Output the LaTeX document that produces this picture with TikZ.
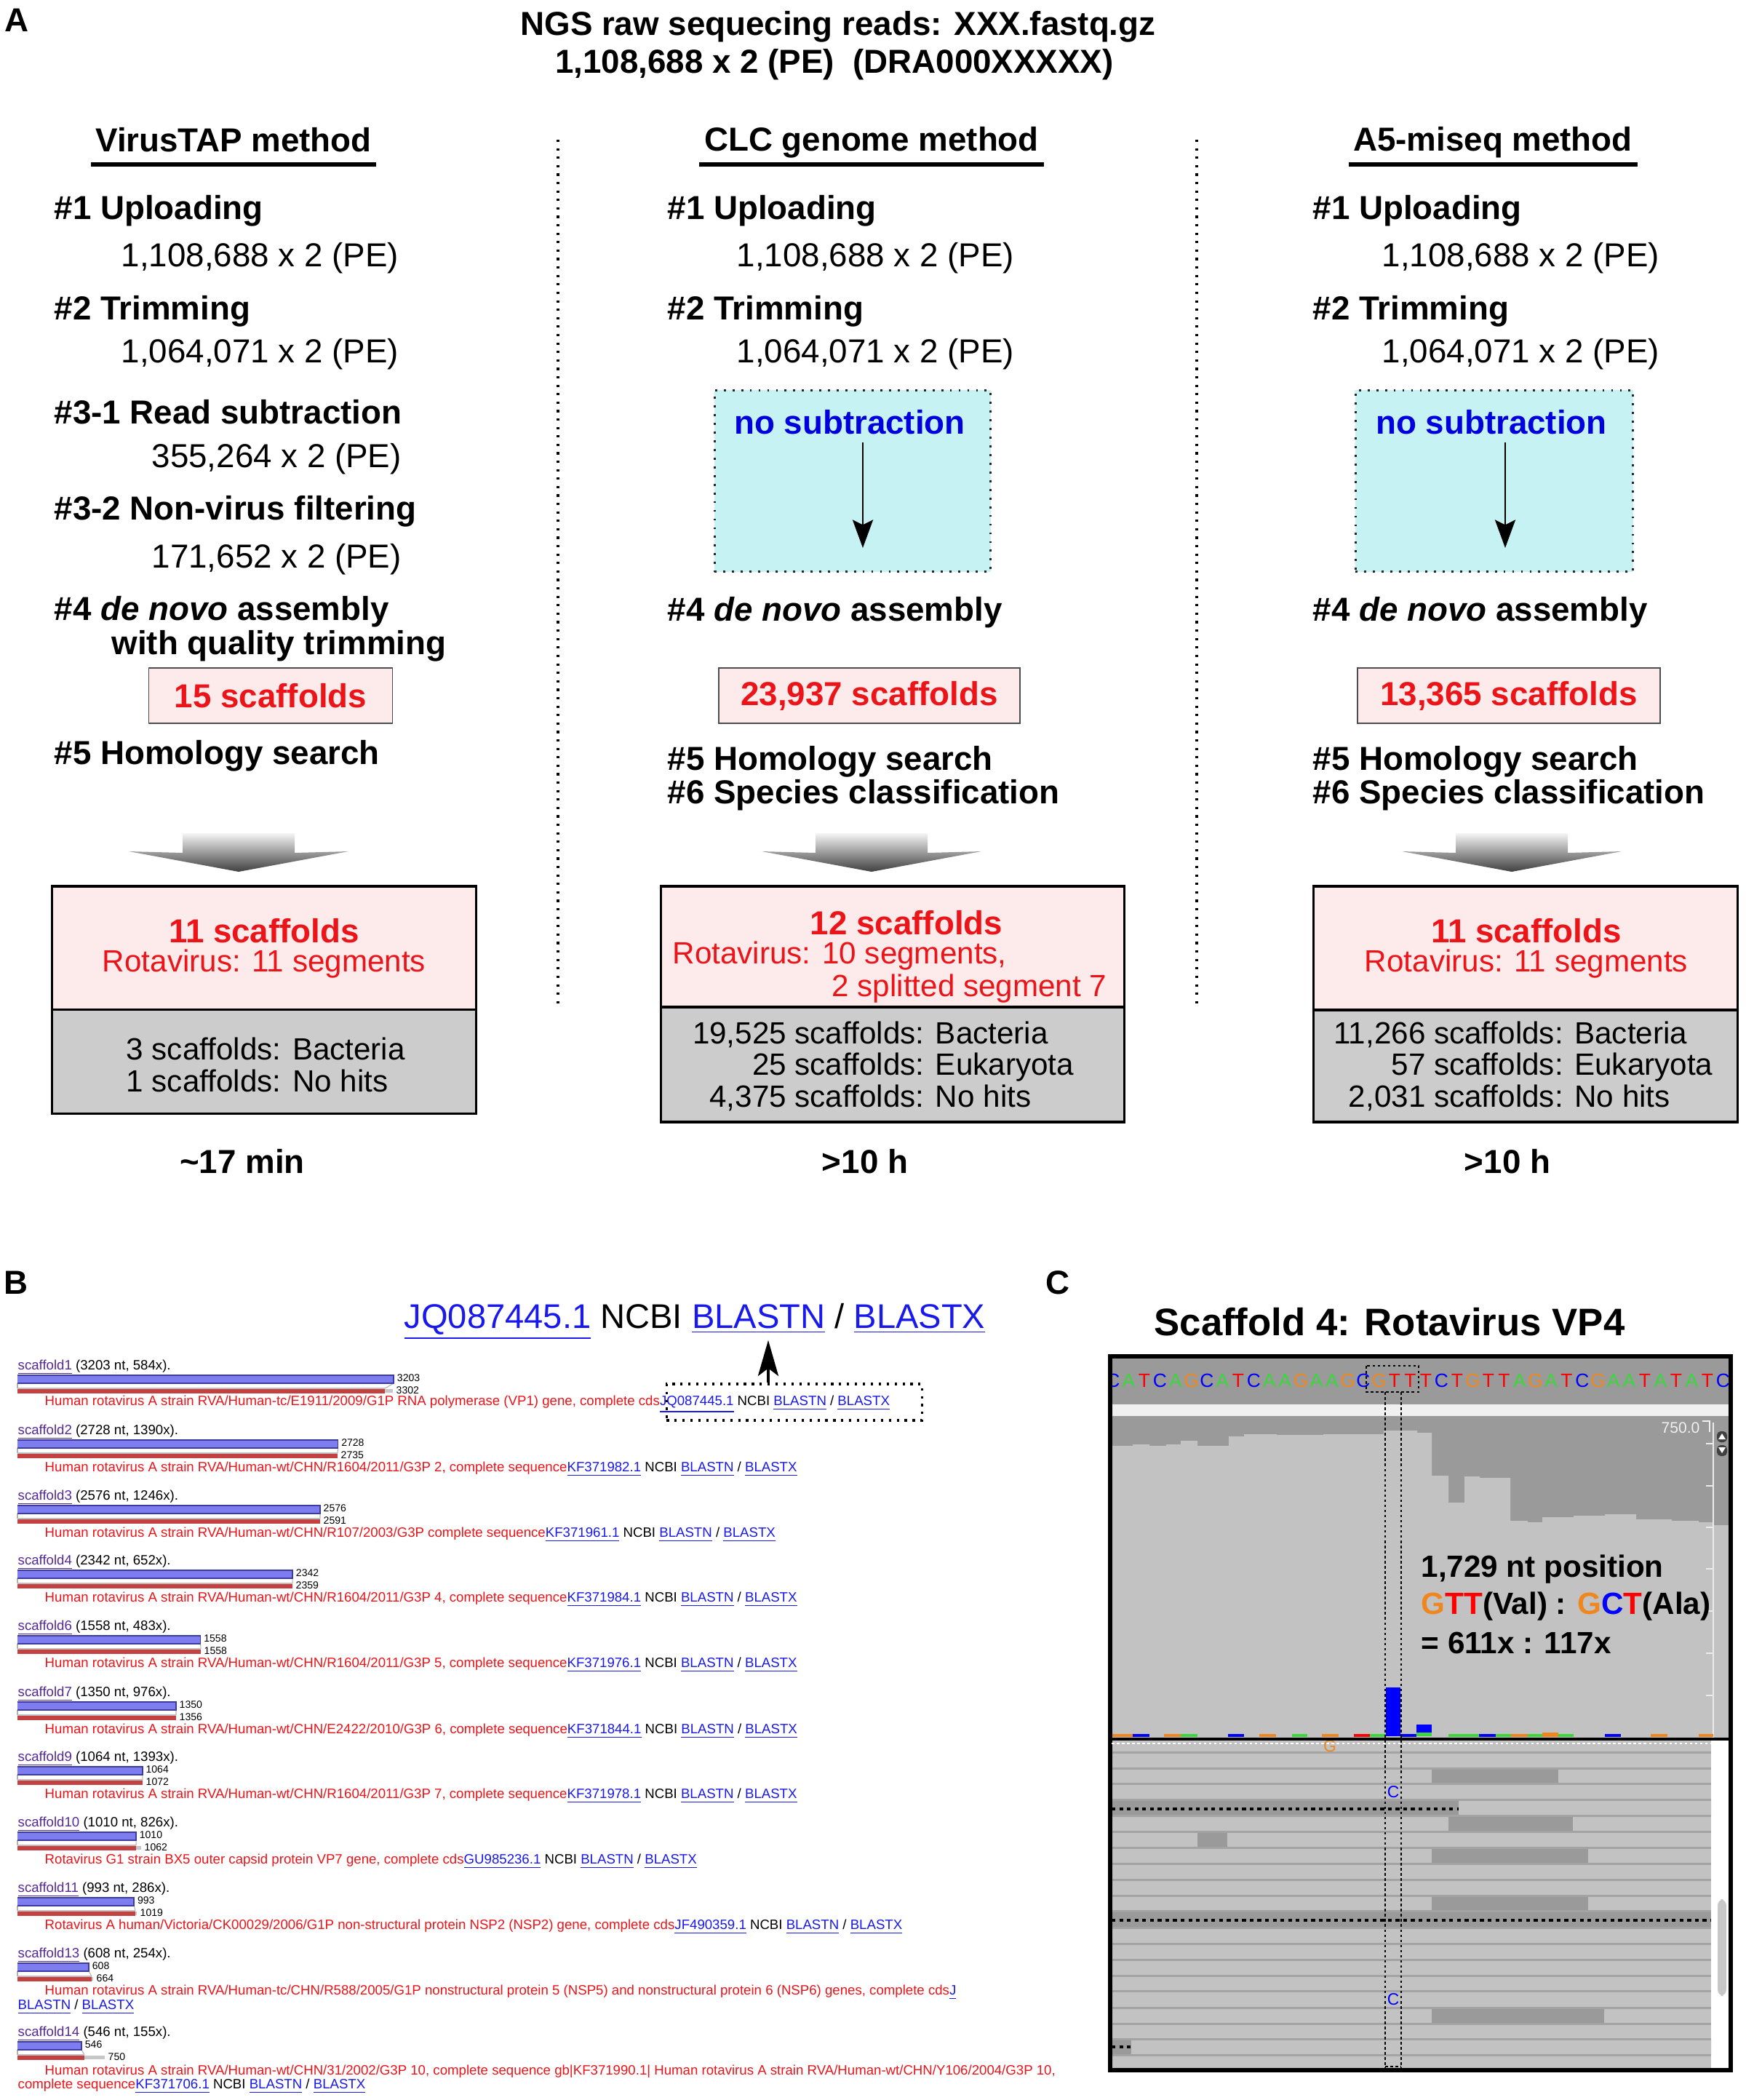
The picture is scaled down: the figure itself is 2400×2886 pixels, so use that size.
\documentclass[tikz,border=0pt]{standalone}
\usepackage{fontspec}
\setmainfont{Liberation Sans}
\usepackage{tikz}
\usetikzlibrary{arrows.meta,calc,positioning}

\definecolor{redtxt}{RGB}{235,20,25}
\definecolor{pinkbg}{RGB}{253,234,234}
\definecolor{greybg}{RGB}{204,204,204}
\definecolor{cyanbg}{RGB}{198,242,244}
\definecolor{nosub}{RGB}{0,0,220}
\definecolor{lnk}{RGB}{25,25,235}
\definecolor{visited}{RGB}{85,40,150}
\definecolor{barblue}{RGB}{125,125,240}
\definecolor{barblueE}{RGB}{60,60,160}
\definecolor{barred}{RGB}{195,65,65}
\definecolor{ntA}{RGB}{60,215,60}
\definecolor{ntC}{RGB}{0,0,255}
\definecolor{ntG}{RGB}{240,135,30}
\definecolor{ntT}{RGB}{255,0,0}
\definecolor{igvdark}{RGB}{154,154,154}
\definecolor{igvlight}{RGB}{194,194,194}
\definecolor{igvline}{RGB}{163,163,163}

\newcommand\fA{\fontsize{13pt}{15pt}\selectfont}
\newcommand\fR{\fontsize{12pt}{12.4pt}\selectfont}
\newcommand\fB{\fontsize{5.3pt}{6pt}\selectfont}
\newcommand\fN{\fontsize{4pt}{4.5pt}\selectfont}
\newcommand\lnk[1]{{\color{lnk}\underline{#1}}}
\newcommand\rd[1]{{\color{redtxt}#1}}

\tikzset{
	txt/.style={inner sep=0pt, font=\fA},
	stage/.style={txt, anchor=west, font=\fA\bfseries, yshift=-0.05cm},
	readnum/.style={txt, anchor=west, yshift=-0.05cm},
	method/.style={txt, font=\fA\bfseries},
	headline/.style={line width=1.5pt, shorten <=-0.06cm, shorten >=-0.06cm},
	divider/.style={line width=0.9pt, dash pattern=on 0.9pt off 2.4pt},
	scafbox/.style={draw=black!70, line width=0.5pt, fill=pinkbg, text=redtxt, font=\fA\bfseries, inner sep=0pt},
	nosubbox/.style={draw=black!85, fill=cyanbg, line width=0.8pt, dash pattern=on 0.8pt off 2.6pt, inner sep=0pt},
	subarrow/.style={line width=0.7pt, shorten <=0.1cm, -{Stealth[length=11pt, width=8pt, inset=2pt]}},
	hitbox/.style={draw, line width=0.9pt, fill=pinkbg, inner sep=0pt},
	restbox/.style={draw, line width=0.9pt, fill=greybg, inner sep=0pt},
	hit/.style={txt, text=redtxt, font=\fR},
	hitbold/.style={txt, text=redtxt, font=\fA\bfseries},
	rest/.style={txt, font=\fR},
	desc/.style={inner sep=0pt, anchor=west, font=\fB},
	barnum/.style={inner sep=0pt, anchor=west, font=\fN},
	panel/.style={inner sep=0pt, font=\fA\bfseries},
	thickdot/.style={line width=1.3pt, dash pattern=on 1.5pt off 1.5pt},
	thindot/.style={line width=0.7pt, dash pattern=on 1pt off 1pt}
}

\begin{document}
\begin{tikzpicture}[x=0.01cm, y=-0.01cm]
\useasboundingbox (0,0) rectangle (2400,2886);

\node[panel] (labA) at (23,28) {A};
\node[method] (title1) at (1152,37) {NGS raw sequecing reads: XXX.fastq.gz};
\node[method] (title2) at (1147,89) {1,108,688 x 2 (PE)\ \ (DRA000XXXXX)};

\coordinate (ul) at (0,226);
\node[method] (tap-head) at (321,192) {VirusTAP method};
\node[method] (clc-head) at (1198,196) {CLC genome method};
\node[method] (a5-head) at (2052,196) {A5-miseq method};
\draw[headline] (tap-head.west |- ul) to (tap-head.east |- ul);
\draw[headline] (clc-head.west |- ul) to (clc-head.east |- ul);
\draw[headline] (a5-head.west |- ul) to (a5-head.east |- ul);

\draw[divider] (767,192) to (767,1384);
\draw[divider] (1645,192) to (1645,1384);

\node[stage] (tap-1) at (74,285) {\#1 Uploading};
\node[readnum] (tap-1n) at (166,350) {1,108,688 x 2 (PE)};
\node[stage] (tap-2) at (74,423) {\#2 Trimming};
\node[readnum] (tap-2n) at (166,482) {1,064,071 x 2 (PE)};
\node[stage] (tap-31) at (74,561) {\#3-1 Read subtraction};
\node[readnum] (tap-31n) at (208,626) {355,264 x 2 (PE)};
\node[stage] (tap-32) at (74,698) {\#3-2 Non-virus filtering};
\node[readnum] (tap-32n) at (208,764) {171,652 x 2 (PE)};
\node[stage] (tap-4) at (74,836) {\#4 \textit{de novo} assembly};
\node[stage] (tap-4b) at (153,883) {with quality trimming};
\node[scafbox, minimum width=3.35cm, minimum height=0.76cm] (tap-sc) at (372,956) {15 scaffolds};
\node[stage] (tap-5) at (74,1034) {\#5 Homology search};

\node[stage] (clc-1) at (917,285) {\#1 Uploading};
\node[readnum] (clc-1n) at (1012,350) {1,108,688 x 2 (PE)};
\node[stage] (clc-2) at (917,423) {\#2 Trimming};
\node[readnum] (clc-2n) at (1012,482) {1,064,071 x 2 (PE)};
\node[nosubbox, minimum width=3.79cm, minimum height=2.49cm] (clc-box) at (1172,661) {};
\node[txt, text=nosub, font=\fA\bfseries] (clc-nosub) at (1168,580) {no subtraction};
\coordinate (clc-end) at (1186,753);
\draw[subarrow] (clc-nosub.south -| clc-end) to (clc-end);
\node[stage] (clc-4) at (917,837) {\#4 \textit{de novo} assembly};
\node[scafbox, minimum width=4.14cm, minimum height=0.76cm] (clc-sc) at (1195,956) {23,937 scaffolds};
\node[stage] (clc-5) at (917,1042) {\#5 Homology search};
\node[stage] (clc-6) at (917,1088) {\#6 Species classification};

\node[stage] (a5-1) at (1804,285) {\#1 Uploading};
\node[readnum] (a5-1n) at (1899,350) {1,108,688 x 2 (PE)};
\node[stage] (a5-2) at (1804,423) {\#2 Trimming};
\node[readnum] (a5-2n) at (1899,482) {1,064,071 x 2 (PE)};
\node[nosubbox, minimum width=3.81cm, minimum height=2.49cm] (a5-box) at (2054,661) {};
\node[txt, text=nosub, font=\fA\bfseries] (a5-nosub) at (2050,580) {no subtraction};
\coordinate (a5-end) at (2069,753);
\draw[subarrow] (a5-nosub.south -| a5-end) to (a5-end);
\node[stage] (a5-4) at (1804,837) {\#4 \textit{de novo} assembly};
\node[scafbox, minimum width=4.16cm, minimum height=0.76cm] (a5-sc) at (2074,956) {13,365 scaffolds};
\node[stage] (a5-5) at (1804,1042) {\#5 Homology search};
\node[stage] (a5-6) at (1804,1088) {\#6 Species classification};

\foreach \cx in {328,1198,2078}
	\shade[top color=gray!8, bottom color=black!75] ({\cx-77},1145) -- ({\cx+77},1145) -- ({\cx+77},1172) -- ({\cx+151},1170) -- (\cx,1198) -- ({\cx-151},1170) -- ({\cx-77},1172) -- cycle;

\node[hitbox, minimum width=5.83cm, minimum height=1.70cm] (tap-hit) at (363,1303) {};
\node[restbox, minimum width=5.83cm, minimum height=1.43cm] (tap-rest) at (363,1459) {};
\node[hitbox, minimum width=6.37cm, minimum height=1.66cm] (clc-hit) at (1227,1301) {};
\node[restbox, minimum width=6.37cm, minimum height=1.58cm] (clc-rest) at (1227,1463) {};
\node[hitbox, minimum width=5.83cm, minimum height=1.70cm] (a5-hit) at (2097,1303) {};
\node[restbox, minimum width=5.83cm, minimum height=1.54cm] (a5-rest) at (2097,1465) {};

\node[hitbold] (tap-n) at (363,1279) {11 scaffolds};
\node[hit] (tap-seg) at (363,1325) {Rotavirus: 11 segments};
\node[rest, anchor=west] (tap-bac) at (173,1441) {3 scaffolds: Bacteria};
\node[rest, anchor=west] (tap-nohit) at (173,1485) {1 scaffolds: No hits};

\node[hitbold] (clc-n) at (1246,1268) {12 scaffolds};
\node[hit, anchor=west] (clc-seg) at (924,1314) {Rotavirus: 10 segments,};
\node[hit, anchor=east] (clc-seg7) at (1522,1359) {2 splitted segment 7};
\node[rest] (clc-list) at (1214,1469) {\begin{tabular}{@{}r@{ }l@{}}19,525 & scaffolds: Bacteria\\ 25 & scaffolds: Eukaryota\\ 4,375 & scaffolds: No hits\end{tabular}};

\node[hitbold] (a5-n) at (2098,1279) {11 scaffolds};
\node[hit] (a5-seg) at (2098,1325) {Rotavirus: 11 segments};
\node[rest] (a5-list) at (2094,1469) {\begin{tabular}{@{}r@{ }l@{}}11,266 & scaffolds: Bacteria\\ 57 & scaffolds: Eukaryota\\ 2,031 & scaffolds: No hits\end{tabular}};

\node[method] (tap-time) at (333,1596) {\textasciitilde17 min};
\node[method] (clc-time) at (1189,1596) {>10 h};
\node[method] (a5-time) at (2072,1596) {>10 h};

\node[panel] (labB) at (22,1763) {B};
\node[txt, font=\fontsize{13.4pt}{15pt}\selectfont] (hdr) at (955,1816) {\lnk{JQ087445.1} NCBI \lnk{BLASTN} / \lnk{BLASTX}};
\node[draw, line width=0.9pt, dash pattern=on 0.9pt off 2.2pt, minimum width=3.51cm, minimum height=0.5cm, inner sep=0pt] (zoombox) at (1092,1927) {};
\coordinate (zoomtail) at (1056,1902);
\draw[line width=1pt, -{Stealth[length=14pt, width=8pt, inset=3pt]}] (zoombox.north -| zoomtail) to (zoomtail |- hdr.south);

\foreach \ly/\nm/\len/\cv/\rf/\rx/\gx [count=\i] in {1879/scaffold1/3203/584x/3302/529/540, 1968/scaffold2/2728/1390x/2735/464/464, 2058/scaffold3/2576/1246x/2591/440/440, 2147/scaffold4/2342/652x/2359/402/402, 2237/scaffold6/1558/483x/1558/276/276, 2328/scaffold7/1350/976x/1356/242/242, 2417/scaffold9/1064/1393x/1072/196/196, 2507/scaffold10/1010/826x/1062/187/194, 2597/scaffold11/993/286x/1019/186/188, 2687/scaffold13/608/254x/664/126/128, 2795/scaffold14/546/155x/750/116/144}
{
	\pgfmathsetmacro\bx{24+0.1615*\len}
	\node[desc] (lab\i) at (24,\ly) {{\color{visited}\underline{\nm}} (\len\ nt, \cv).};
	\draw[black!30, line width=0.3pt] (24,{\ly+22}) to (24,{\ly+29});
	\draw[black!30, line width=0.3pt] (\bx,{\ly+22}) to (\rx,{\ly+29});
	\fill[black!22] (\rx,{\ly+30}) rectangle (\gx,{\ly+35});
	\fill[barblue] (24,{\ly+11}) rectangle (\bx,{\ly+22});
	\draw[barblueE, line width=0.5pt] (24,{\ly+11}) -- (\bx,{\ly+11}) -- (\bx,{\ly+22}) -- (24,{\ly+22});
	\fill[barred] (24,{\ly+29}) rectangle (\rx,{\ly+36});
	\draw[black!25, line width=0.4pt] (24,{\ly+29}) -- (\rx,{\ly+29});
	\node[barnum] (tn\i) at ({\bx+4},{\ly+15}) {\len};
	\node[barnum] (bn\i) at ({\gx+4},{\ly+32}) {\rf};
}

\node[desc] (d1) at (61,1930) {\rd{Human rotavirus A strain RVA/Human-tc/E1911/2009/G1P RNA polymerase (VP1) gene, complete cds}\lnk{JQ087445.1} NCBI \lnk{BLASTN} / \lnk{BLASTX}};
\node[desc] (d2) at (61,2019) {\rd{Human rotavirus A strain RVA/Human-wt/CHN/R1604/2011/G3P 2, complete sequence}\lnk{KF371982.1} NCBI \lnk{BLASTN} / \lnk{BLASTX}};
\node[desc] (d3) at (61,2109) {\rd{Human rotavirus A strain RVA/Human-wt/CHN/R107/2003/G3P complete sequence}\lnk{KF371961.1} NCBI \lnk{BLASTN} / \lnk{BLASTX}};
\node[desc] (d4) at (61,2198) {\rd{Human rotavirus A strain RVA/Human-wt/CHN/R1604/2011/G3P 4, complete sequence}\lnk{KF371984.1} NCBI \lnk{BLASTN} / \lnk{BLASTX}};
\node[desc] (d5) at (61,2288) {\rd{Human rotavirus A strain RVA/Human-wt/CHN/R1604/2011/G3P 5, complete sequence}\lnk{KF371976.1} NCBI \lnk{BLASTN} / \lnk{BLASTX}};
\node[desc] (d6) at (61,2379) {\rd{Human rotavirus A strain RVA/Human-wt/CHN/E2422/2010/G3P 6, complete sequence}\lnk{KF371844.1} NCBI \lnk{BLASTN} / \lnk{BLASTX}};
\node[desc] (d7) at (61,2468) {\rd{Human rotavirus A strain RVA/Human-wt/CHN/R1604/2011/G3P 7, complete sequence}\lnk{KF371978.1} NCBI \lnk{BLASTN} / \lnk{BLASTX}};
\node[desc] (d8) at (61,2558) {\rd{Rotavirus G1 strain BX5 outer capsid protein VP7 gene, complete cds}\lnk{GU985236.1} NCBI \lnk{BLASTN} / \lnk{BLASTX}};
\node[desc] (d9) at (61,2648) {\rd{Rotavirus A human/Victoria/CK00029/2006/G1P non-structural protein NSP2 (NSP2) gene, complete cds}\lnk{JF490359.1} NCBI \lnk{BLASTN} / \lnk{BLASTX}};
\node[desc] (d10) at (61,2738) {\rd{Human rotavirus A strain RVA/Human-tc/CHN/R588/2005/G1P nonstructural protein 5 (NSP5) and nonstructural protein 6 (NSP6) genes, complete cds}\lnk{J}};
\node[desc] (d10b) at (24,2758) {\lnk{BLASTN} / \lnk{BLASTX}};
\node[desc] (d11) at (61,2847) {\rd{Human rotavirus A strain RVA/Human-wt/CHN/31/2002/G3P 10, complete sequence gb|KF371990.1| Human rotavirus A strain RVA/Human-wt/CHN/Y106/2004/G3P 10,}};
\node[desc] (d11b) at (24,2867) {\rd{complete sequence}\lnk{KF371706.1} NCBI \lnk{BLASTN} / \lnk{BLASTX}};

\node[panel] (labC) at (1454,1763) {C};
\node[txt, font=\fontsize{15pt}{17pt}\selectfont\bfseries] (igv-title) at (1910,1817) {Scaffold 4: Rotavirus VP4};

\fill[igvdark] (1526,1864) rectangle (2379,1930);
\fill[black!6] (1526,1930) rectangle (2379,1946);
\fill[igvdark] (1526,1946) rectangle (2379,2390);
\fill[igvlight] (1526,2390) -- (1526,1987) -| (1557,1985) -| (1580,1987) -| (1603,1985) -| (1623,1980) -| (1646,1987) -| (1689,1974) -| (1710,1971) -| (1755,1972) -| (1819,1971) -| (1902,1966) -| (1948,1969) -| (1968,2028) -| (1991,2065) -| (2013,2029) -| (2034,2031) -| (2076,2090) -| (2100,2092) -| (2120,2085) -| (2163,2083) -| (2206,2081) -| (2249,2088) -| (2298,2090) -| (2335,2092) -| (2355,2096) -| (2379,2390) -- cycle;
\draw[black!8, line width=0.4pt] (2355,1955) to (2355,2388);
\foreach \ty in {1984,2042,2099,2156,2214,2272,2330}
	\draw[black!8, line width=0.4pt] (2345,\ty) to (2355,\ty);
\node[txt, text=black!6, font=\fontsize{6pt}{7pt}\selectfont] (igv-max) at (2310,1962) {750.0};
\draw[black!6, line width=0.4pt] (2340,1953) -| (2350,1968);
\fill[black!75, rounded corners=1.5pt] (2360,1967) rectangle (2374,1982);
\fill[black!75, rounded corners=1.5pt] (2360,1986) rectangle (2374,2001);
\fill[white] (2362,1978) -- (2372,1978) -- (2367,1970) -- cycle;
\fill[white] (2362,1989) -- (2372,1989) -- (2367,1997) -- cycle;

\foreach \xa/\xb/\nc in {1529/1557/ntG, 1557/1580/ntC, 1600/1623/ntG, 1623/1646/ntA, 1688/1710/ntC, 1731/1754/ntG, 1776/1797/ntA, 1817/1840/ntG, 1861/1883/ntT, 1883/1905/ntA, 1925/1947/ntC, 1991/2033/ntA, 2033/2056/ntC, 2056/2077/ntA, 2077/2100/ntG, 2100/2120/ntA, 2142/2163/ntA, 2206/2228/ntC, 2269/2292/ntG, 2335/2355/ntG}
	\draw[\nc, line width=0.9pt] (\xa,2385) to (\xb,2385);
\fill[ntG] (2120,2381) rectangle (2142,2387);
\fill[ntC] (1905,2319) rectangle (1925,2386);
\fill[ntC] (1947,2370) rectangle (1968,2381);
\fill[ntA] (1947,2381) rectangle (1968,2386);

\fill[igvlight] (1526,2390) rectangle (2352,2845);
\fill[white] (2352,2390) rectangle (2379,2845);
\fill[igvdark] (1526,2473) rectangle (2005,2495);
\fill[igvlight] (2013,2473) -- (2005,2484) -- (2013,2495) -- (2352,2495) -- (2352,2473) -- cycle;
\fill[igvdark] (1526,2626) rectangle (2352,2649);
\fill[igvdark] (1526,2802) rectangle (1555,2824);
\fill[igvlight] (1563,2802) -- (1555,2813) -- (1563,2824) -- (2352,2824) -- (2352,2802) -- cycle;
\foreach \xa/\ya/\xb/\yb in {1968/2430/2142/2451, 1991/2495/2162/2517, 1646/2517/1687/2539, 1968/2539/2183/2561, 1968/2605/2183/2626, 1968/2759/2205/2781}
	\fill[igvdark] (\xa,\ya) rectangle (\xb,\yb);
\foreach \sy in {2408,2430,2451,2473,2495,2517,2539,2561,2583,2605,2626,2649,2671,2693,2715,2736,2759,2781,2802,2824}
	\draw[igvline, line width=0.85pt] (1526,\sy) to (2352,\sy);
\fill[black!22, rounded corners=2.5pt] (2361,2610) rectangle (2373,2743);
\node[txt, text=ntC, font=\fontsize{6.5pt}{7pt}\selectfont] (read-c1) at (1915,2463) {C};
\node[txt, text=ntC, font=\fontsize{6.5pt}{7pt}\selectfont] (read-c2) at (1915,2748) {C};
\node[txt, text=ntG, font=\fontsize{6.5pt}{7pt}\selectfont] (read-g) at (1828,2400) {G};

\begin{scope}
	\clip (1526,1864) rectangle (2379,1930);
	\foreach \base [count=\i from 0] in {C,A,T,C,A,G,C,A,T,C,A,A,G,A,A,G,C,G,T,T,T,C,T,G,T,T,A,G,A,T,C,G,A,A,T,A,T,A,T,C}
		\node[txt, text=nt\base, font=\fontsize{7.5pt}{8pt}\selectfont] (seq\i) at ({1530+21.5*\i},1897) {\base};
\end{scope}

\draw[line width=1.5pt] (1526,1864) rectangle (2379,2845);
\draw[line width=1.3pt] (1526,2390) to (2379,2390);
\draw[white, line width=0.6pt, dash pattern=on 1pt off 1pt] (1528,2396) to (2377,2396);
\draw[thickdot] (1528,2486) to (2005,2486);
\draw[thickdot] (1528,2639) to (2352,2639);
\draw[thickdot] (1528,2813) to (1555,2813);
\draw[thindot] (1878,1877) rectangle (1950,1913);
\draw[thindot] (1904,1913) to (1904,2843);
\draw[thindot] (1926,1913) to (1926,2843);
\draw[thindot] (1904,2840) to (1926,2840);

\node[txt, anchor=west, font=\fontsize{12pt}{14pt}\selectfont\bfseries] (pos) at (1953,2157) {1,729 nt position};
\node[txt, anchor=west, font=\fontsize{12pt}{14pt}\selectfont\bfseries] (codon) at (1953,2208) {{\color{ntG}G}{\color{ntT}TT}(Val) : {\color{ntG}G}{\color{ntC}C}{\color{ntT}T}(Ala)};
\node[txt, anchor=west, font=\fontsize{12pt}{14pt}\selectfont\bfseries] (ratio) at (1953,2258) {= 611x : 117x};
\end{tikzpicture}
\end{document}
